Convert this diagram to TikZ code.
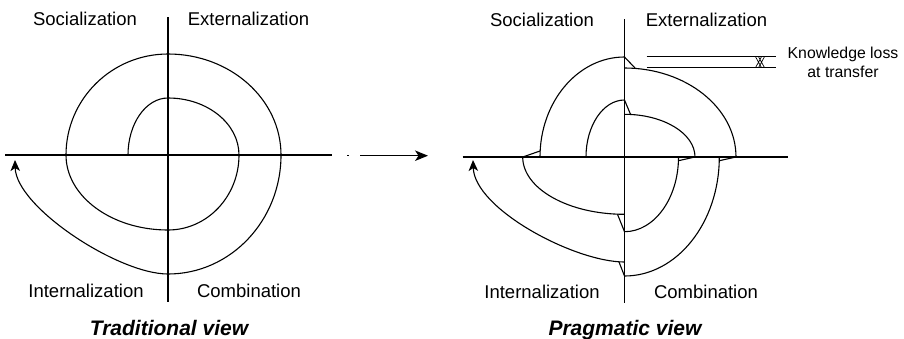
\documentclass[tikz,border=0pt]{standalone}
\usepackage{fontspec}
\setmainfont{Liberation Sans}
\usetikzlibrary{arrows.meta}
\tikzset{%
    quadrant/.style={font=\fontsize{18.5}{22}\selectfont, anchor=base, inner sep=0},
    viewname/.style={font=\fontsize{21}{25}\selectfont\bfseries\itshape, anchor=base, inner sep=0},
    spiraltip/.style={-{Stealth[length=11pt, width=9.5pt, inset=3pt]}},
    losslabel/.style={font=\fontsize{15.8}{18.4}\selectfont, align=center, anchor=north, inner sep=0}
}

\begin{document}
\begin{tikzpicture}[x=1pt, y=1pt, line width=1.1pt]
    \useasboundingbox (0, 0) rectangle (904, -338);

    % Traditional view: one continuous spiral
    \begin{scope}[shift={(168, -155)}]
        \draw (-163, 0) -- (163.7, 0) coordinate (trad-end);
        \draw (0, 138) -- (0, -147);
        \draw[spiraltip] (-40, 0)
            arc[start angle=180, end angle=90, x radius=40pt, y radius=57pt]
            arc[start angle=90, end angle=0, x radius=71pt, y radius=57pt]
            arc[start angle=0, end angle=-90, x radius=71pt, y radius=75pt]
            arc[start angle=-90, end angle=-180, x radius=102pt, y radius=75pt]
            arc[start angle=180, end angle=90, x radius=102pt, y radius=101pt]
            arc[start angle=90, end angle=0, x radius=113pt, y radius=101pt]
            arc[start angle=0, end angle=-90, x radius=113pt, y radius=119pt]
            .. controls (-50, -119) and (-152, -52) .. (-153, -5);
    \end{scope}

    % Transition between the two views
    \draw (347.2, -155.7) -- (348.8, -155.7);
    \coordinate (shift-start) at (360, -155.7);
    \coordinate (shift-end) at (428, -155.7);
    \draw[-{Stealth[length=13pt, width=10.5pt, inset=3.5pt]}] (shift-start) -- (shift-end);

    % Pragmatic view: broken spiral, each quarter starts further in
    \begin{scope}[shift={(624.5, -157)}]
        \draw (-161.8, 0) -- (163.5, 0);
        \draw (0, 138) -- (0, -146);

        % inner turn
        \draw (-38.5, 0) arc[start angle=180, end angle=90, x radius=38.5pt, y radius=57pt];
        \draw (0, 57) -- (6, 42.7);
        \draw (0, 42.7) arc[start angle=90, end angle=0, x radius=70.5pt, y radius=42.7pt];
        \draw (70.5, 0) -- (54, -3.7);
        \draw (54, 0) arc[start angle=0, end angle=-90, x radius=54pt, y radius=74.7pt];
        \draw (0, -74.7) -- (-7, -57.3);
        \draw (0, -57.3) arc[start angle=-90, end angle=-180, x radius=101.8pt, y radius=57.3pt];
        \draw (-101.8, 0) -- (-84.5, 6);

        % outer turn
        \draw (-84.5, 0) arc[start angle=180, end angle=90, x radius=84.5pt, y radius=100pt];
        \draw (0, 100) -- (10.5, 89);
        \draw (0, 89) arc[start angle=90, end angle=0, x radius=111.5pt, y radius=89pt];
        \draw (111.5, 0) -- (94.8, -3.7);
        \draw (94.8, 0) arc[start angle=0, end angle=-90, x radius=94.8pt, y radius=119pt];
        \draw (0, -119) -- (-5.5, -105);
        \draw[spiraltip] (0, -105) .. controls (-50, -105) and (-150, -52) .. (-151.5, -3);

        % loss marker
        \draw (22, 100.3) -- (151.5, 100.3);
        \draw (22, 89.3) -- (151.5, 89.3);
        \draw[line width=0.7pt] (131, 100.3) -- (137, 89.3)
                                (137, 100.3) -- (131, 89.3)
                                (134, 100.3) -- (140, 89.3)
                                (140, 100.3) -- (134, 89.3);
    \end{scope}

    % Quadrant labels
    \node[quadrant] (soc-trad) at (85, -25.5) {Socialization};
    \node[quadrant] (ext-trad) at (248.5, -25.5) {Externalization};
    \node[quadrant] (int-trad) at (86, -297) {Internalization};
    \node[quadrant] (comb-trad) at (249, -297) {Combination};

    \node[quadrant] (soc-prag) at (542, -26) {Socialization};
    \node[quadrant] (ext-prag) at (706.5, -26) {Externalization};
    \node[quadrant] (int-prag) at (542, -298) {Internalization};
    \node[quadrant] (comb-prag) at (706, -298) {Combination};

    \node[losslabel] (loss) at (843, -46.6) {Knowledge loss\\at transfer};

    % View titles
    \node[viewname] (trad) at (169, -335) {Traditional view};
    \node[viewname] (prag) at (625, -335) {Pragmatic view};

\end{tikzpicture}
\end{document}
